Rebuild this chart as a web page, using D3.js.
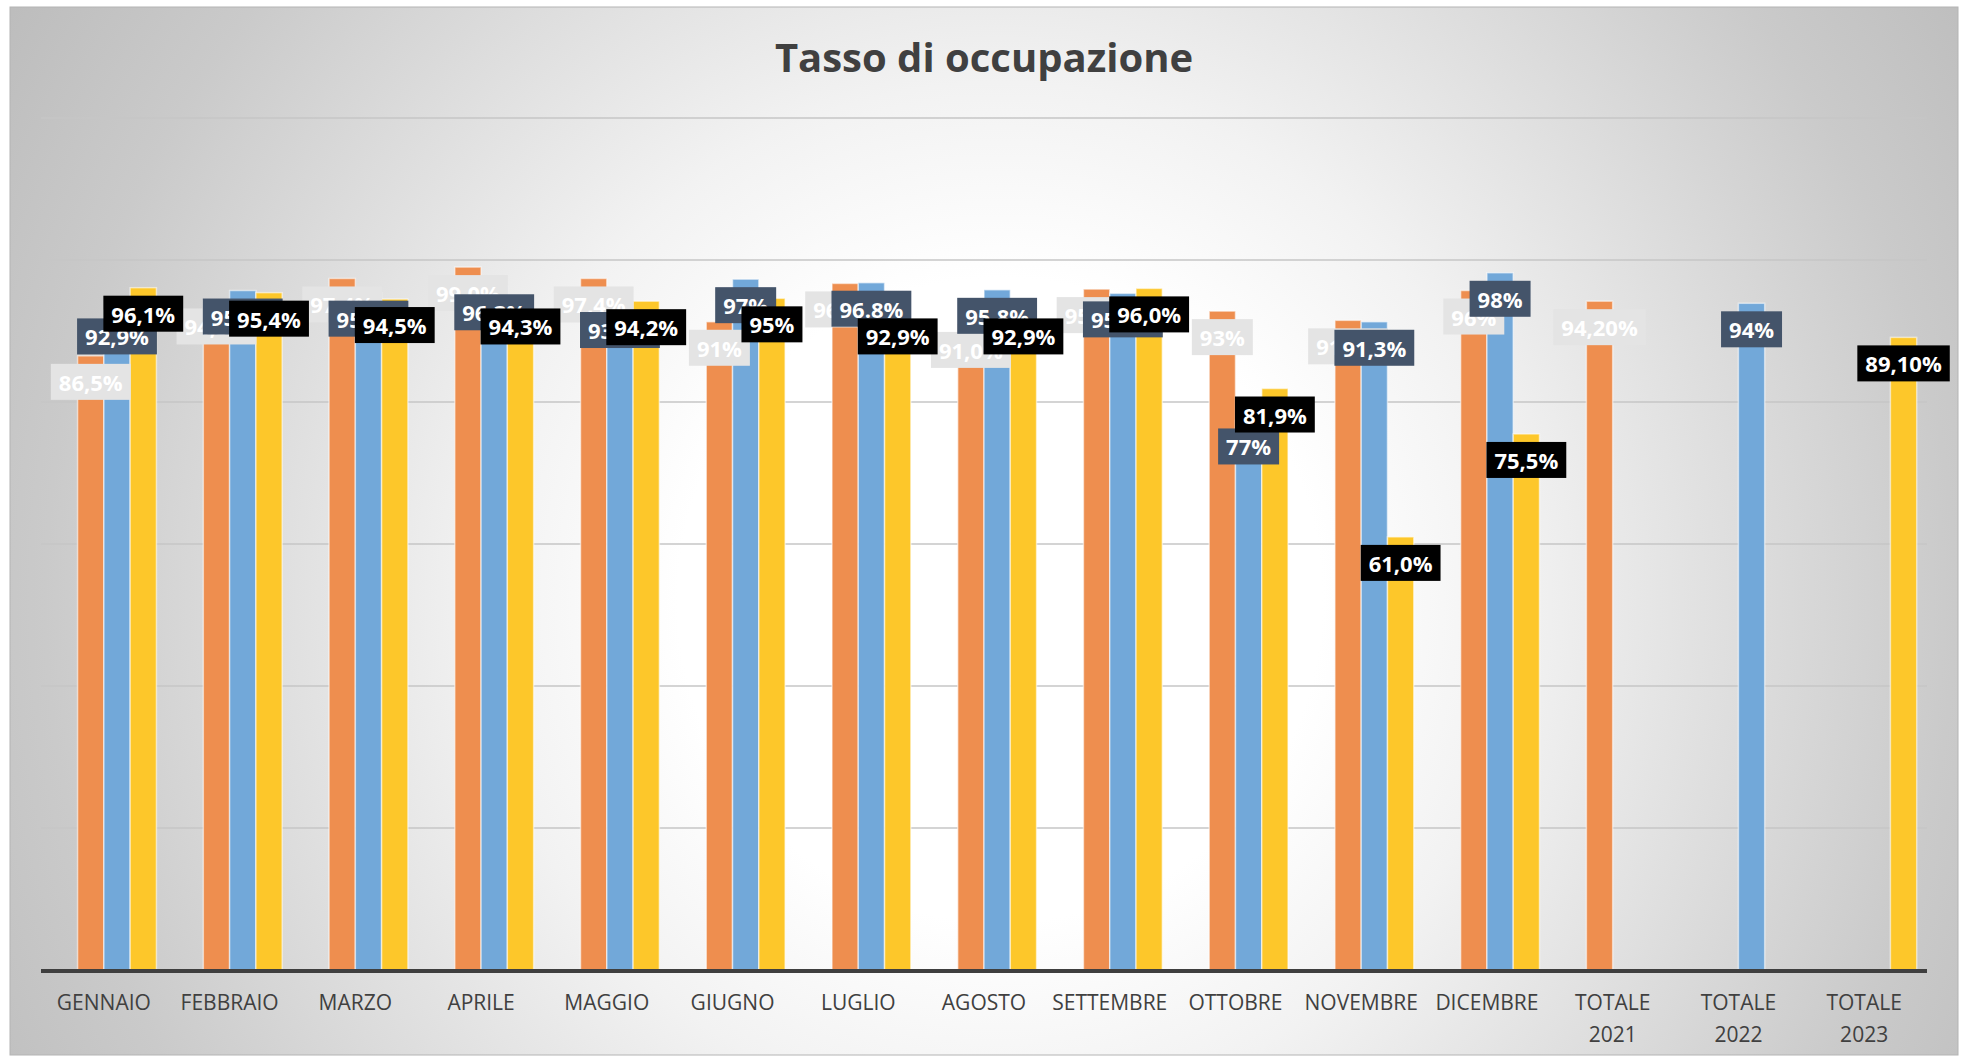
<!DOCTYPE html>
<html>
<head>
<meta charset="utf-8">
<script src="https://cdn.jsdelivr.net/npm/d3@7"></script>
<style>
  html, body { margin: 0; padding: 0; background: #ffffff; }
  svg { display: block; }
</style>
</head>
<body>
<svg id="chart" width="1968" height="1057"></svg>
<script>
// ---------- DATA ----------
const categories = ["GENNAIO","FEBBRAIO","MARZO","APRILE","MAGGIO","GIUGNO","LUGLIO","AGOSTO","SETTEMBRE","OTTOBRE","NOVEMBRE","DICEMBRE","TOTALE 2021","TOTALE 2022","TOTALE 2023"];
const seriesNames = ["2021","2022","2023"];
const values2021 = [86.5, 94.3, 97.4, 99.0, 97.4, 91.3, 96.7, 91.0, 95.9, 92.8, 91.5, 95.7, 94.2, null, null];
const values2022 = [92.9, 95.7, 95.4, 96.3, 93.8, 97.3, 96.8, 95.8, 95.3, 77.4, 91.3, 98.2, null, 93.9, null];
const values2023 = [96.1, 95.4, 94.5, 94.3, 94.2, 94.6, 92.9, 92.9, 96.0, 81.9, 61.0, 75.5, null, null, 89.1];
const labels2021 = ["86,5%","94,3%","97,4%","99,0%","97,4%","91%","96,7%","91,0%","95,9%","93%","91,5%","96%","94,20%",null,null];
const labels2022 = ["92,9%","95,7%","95,4%","96,3%","93,8%","97%","96.8%","95,8%","95,3%","77%","91,3%","98%",null,"94%",null];
const labels2023 = ["96,1%","95,4%","94,5%","94,3%","94,2%","95%","92,9%","92,9%","96,0%","81,9%","61,0%","75,5%",null,null,"89,10%"];
const yTicks = [0, 20, 40, 60, 80, 100, 120];
const title = "Tasso di occupazione";

// ---------- STYLE ----------
const barColors = {"2021": "#EE8E4F", "2022": "#72A8D9", "2023": "#FDC72A"};
const labelFill = {"2021": "#E4E4E4", "2022": "#44546A", "2023": "#000000"};
const seriesValues = {"2021": values2021, "2022": values2022, "2023": values2023};
const seriesLabels = {"2021": labels2021, "2022": labels2022, "2023": labels2023};

const svg = d3.select("#chart");
const W = 1968, H = 1057;
const box = {x: 10, y: 7, w: 1948, h: 1048};
const plot = {left: 41, right: 1927, top: 118, bottom: 970};

// background gradient
const defs = svg.append("defs");
const grad = defs.append("radialGradient")
  .attr("id", "bg").attr("gradientUnits", "userSpaceOnUse")
  .attr("cx", 1000).attr("cy", 600).attr("r", 1150);
grad.selectAll("stop").data([
  [0, "#ffffff"], [0.28, "#ffffff"], [0.45, "#f2f2f2"], [0.83, "#cacaca"], [1, "#bdbdbd"]
]).join("stop").attr("offset", d => d[0]).attr("stop-color", d => d[1]);

svg.append("rect").attr("x", 0).attr("y", 0).attr("width", W).attr("height", H).attr("fill", "#ffffff");
svg.append("rect").attr("x", box.x).attr("y", box.y).attr("width", box.w).attr("height", box.h)
  .attr("fill", "url(#bg)").attr("stroke", "#b4b4b4").attr("stroke-width", 1);

// scales
const x = d3.scaleBand().domain(categories).range([plot.left, plot.right])
  .paddingInner(0.164).paddingOuter(0.082);
const x1 = d3.scaleBand().domain(["", ...seriesNames]).range([0, x.bandwidth()]);
const y = d3.scaleLinear().domain([0, 120]).range([plot.bottom, plot.top]);

// gridlines
svg.append("g").selectAll("line").data(yTicks.filter(t => t > 0)).join("line")
  .attr("x1", plot.left).attr("x2", plot.right)
  .attr("y1", d => y(d)).attr("y2", d => y(d))
  .attr("stroke", "#c6c6c6").attr("stroke-width", 1.5);

// title
svg.append("text").attr("x", 984).attr("y", 72).attr("text-anchor", "middle")
  .attr("font-family", "'Open Sans', sans-serif").attr("font-weight", 700)
  .attr("font-size", 40).attr("fill", "#404040").text(title);

// bars
const flat = [];
seriesNames.forEach(s => {
  categories.forEach((c, i) => {
    const v = seriesValues[s][i];
    if (v != null) flat.push({s, c, v, label: seriesLabels[s][i]});
  });
});

svg.append("g").selectAll("rect").data(flat).join("rect")
  .attr("x", d => x(d.c) + x1(d.s))
  .attr("width", x1.bandwidth())
  .attr("y", d => y(d.v))
  .attr("height", d => y(0) - y(d.v))
  .attr("fill", d => barColors[d.s])
  .attr("stroke", "rgba(255,255,255,0.55)").attr("stroke-width", 1.5);

// x axis line
svg.append("line").attr("x1", plot.left).attr("x2", plot.right)
  .attr("y1", plot.bottom + 1).attr("y2", plot.bottom + 1)
  .attr("stroke", "#3f3f3f").attr("stroke-width", 4);

// x axis labels (D3 axis, styled)
const xAxis = d3.axisBottom(x).tickSize(0).tickPadding(0);
const gx = svg.append("g").attr("transform", `translate(0,${plot.bottom})`).call(xAxis);
gx.select(".domain").remove();
gx.selectAll(".tick text").each(function(d) {
  const t = d3.select(this);
  const parts = d.split(" ");
  t.text(null).attr("y", 0).attr("dy", null)
    .attr("font-family", "'Open Sans', sans-serif").attr("font-size", 21)
    .attr("fill", "#404040");
  parts.forEach((p, k) => t.append("tspan").attr("x", 0).attr("y", 40 + k * 32).text(p));
});

// data labels: series order so later series sit on top
const lg = svg.append("g");
flat.forEach(d => {
  const cx = x(d.c) + x1(d.s) + x1.bandwidth() / 2;
  const top = y(d.v) + 8;
  const g = lg.append("g");
  const r = g.append("rect").attr("fill", labelFill[d.s]);
  const t = g.append("text").attr("x", cx).attr("y", top + 18)
    .attr("text-anchor", "middle").attr("dominant-baseline", "central")
    .attr("font-family", "'Open Sans', sans-serif").attr("font-weight", 700)
    .attr("font-size", 22).attr("fill", "#ffffff").text(d.label);
  const w = t.node().getComputedTextLength() + 16;
  r.attr("x", cx - w / 2).attr("y", top).attr("width", w).attr("height", 36);
});
</script>
</body>
</html>
